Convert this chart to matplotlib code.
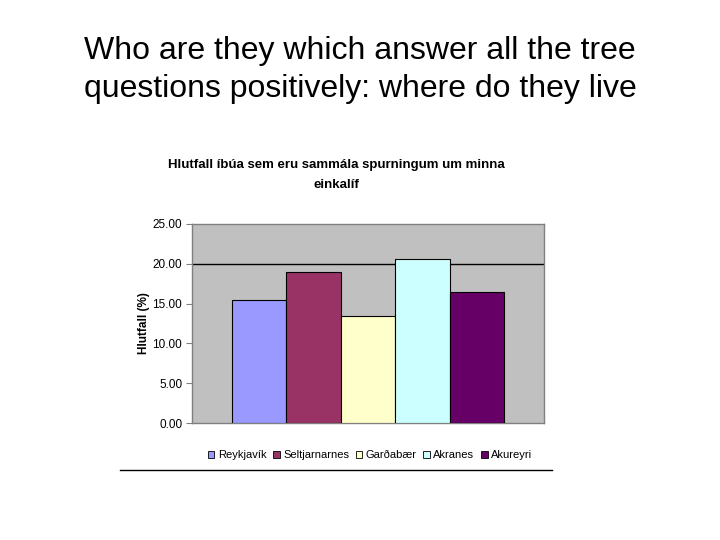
import matplotlib.pyplot as plt
from matplotlib.patches import Patch
from matplotlib.lines import Line2D

plt.rcParams['font.family'] = ['Liberation Sans', 'DejaVu Sans']

towns = ['Reykjavík', 'Seltjarnarnes', 'Garðabær', 'Akranes', 'Akureyri']
values = [15.45, 19.0, 13.4, 20.6, 16.45]
colors = ['#9999FF', '#993366', '#FFFFCC', '#CCFFFF', '#660066']
yticks = [0, 5, 10, 15, 20, 25]

fig = plt.figure(figsize=(7.2, 5.4), dpi=100)
fig.patch.set_facecolor('white')

fig.text(0.5, 1 - 70 / 540, 'Who are they which answer all the tree\nquestions positively: where do they live',
         ha='center', va='center', fontsize=23, linespacing=1.32)

ax = fig.add_axes([192 / 720, 1 - 423 / 540, 352 / 720, 199 / 540])
ax.set_facecolor('#C0C0C0')
x = list(range(len(towns)))
ax.bar(x, values, width=1.0, color=colors, edgecolor='black', linewidth=0.8, zorder=3)
ax.axhline(20, color='black', linewidth=1.0, zorder=2)
ax.set_xlim(-1.237, 5.237)
ax.set_ylim(0, 25)
ax.set_yticks(yticks)
ax.set_yticklabels(['%.2f' % t for t in yticks], fontsize=8.5)
ax.set_xticks([])
ax.tick_params(axis='y', length=4, width=0.8, color='#808080', pad=3)
for s in ax.spines.values():
    s.set_color('#808080')
    s.set_linewidth(1.0)
ax.set_ylabel('Hlutfall (%)', fontsize=8.5, fontweight='bold', labelpad=2)

fig.text(336 / 720, 1 - 175 / 540, 'Hlutfall íbúa sem eru sammála spurningum um minna\neinkalíf',
         ha='center', va='center', fontsize=9.5, fontweight='bold', linespacing=1.85)

handles = [Patch(facecolor=c, edgecolor='black', linewidth=0.6) for c in colors]
fig.legend(handles, towns, loc='center', bbox_to_anchor=(370 / 720, 1 - 455 / 540),
           ncol=5, frameon=False, fontsize=8, handlelength=0.6, handleheight=0.6,
           handletextpad=0.3, columnspacing=0.6, borderpad=0)

fig.add_artist(Line2D([120 / 720, 552 / 720], [1 - 470 / 540, 1 - 470 / 540],
                      color='black', linewidth=1.0))

fig.savefig('out.png', dpi=100)
